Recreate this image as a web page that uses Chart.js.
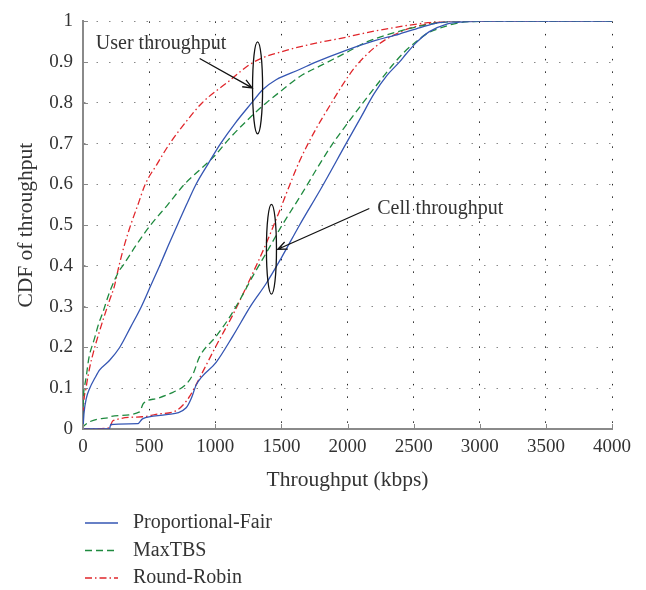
<!DOCTYPE html>
<html>
<head>
<meta charset="utf-8">
<script src="https://cdn.jsdelivr.net/npm/chart.js@4.4.0/dist/chart.umd.min.js"></script>
<style>
  html, body { margin: 0; padding: 0; background: #fff; }
</style>
</head>
<body>
<canvas id="cdf" width="646" height="590"></canvas>
<script>
// -----------------------------
// DATA  ([throughput kbps, CDF])
// -----------------------------
const pfUser = [[0,0],[8,0.04],[25,0.075],[51,0.1],[90,0.125],[126,0.145],[200,0.168],[277,0.2],[360,0.25],[441,0.3],[510,0.35],[579,0.4],[645,0.45],[713,0.5],[782,0.55],[854,0.6],[945,0.65],[1040,0.7],[1150,0.75],[1275,0.8],[1360,0.833],[1460,0.857],[1637,0.882],[1760,0.9],[1989,0.929],[2200,0.952],[2392,0.969],[2550,0.985],[2694,0.997],[2850,1],[4000,1]];
const maxtbsUser = [[0,0],[1,0.05],[10,0.1],[25,0.13],[45,0.175],[86,0.221],[120,0.26],[149,0.285],[200,0.335],[275,0.389],[300,0.4],[400,0.45],[510,0.5],[640,0.55],[766,0.6],[880,0.635],[992,0.669],[1100,0.71],[1250,0.76],[1385,0.8],[1500,0.83],[1640,0.865],[1800,0.892],[2000,0.925],[2140,0.949],[2300,0.967],[2500,0.985],[2700,0.997],[2850,1],[4000,1]];
const rrUser = [[0,0],[4,0.05],[23,0.1],[50,0.15],[86,0.197],[125,0.24],[161,0.277],[200,0.315],[237,0.35],[272,0.4],[312,0.45],[360,0.5],[415,0.55],[470,0.6],[560,0.65],[655,0.7],[770,0.75],[900,0.8],[1090,0.85],[1290,0.9],[1550,0.93],[1810,0.95],[1940,0.958],[2200,0.976],[2450,0.99],[2650,0.998],[2800,1],[4000,1]];

const pfCell = [[0,0],[200,0.001],[210,0.011],[415,0.013],[450,0.025],[630,0.035],[780,0.052],[820,0.076],[856,0.108],[1008,0.164],[1133,0.228],[1272,0.304],[1385,0.357],[1500,0.42],[1637,0.5],[1800,0.59],[1989,0.7],[2100,0.764],[2200,0.822],[2300,0.868],[2392,0.9],[2443,0.92],[2520,0.948],[2619,0.975],[2745,0.993],[2850,0.998],[3000,1],[4000,1]];
const maxtbsCell = [[0,0],[5,0.007],[200,0.028],[215,0.031],[428,0.042],[455,0.062],[560,0.075],[680,0.09],[780,0.11],[831,0.134],[881,0.177],[1008,0.228],[1100,0.27],[1183,0.315],[1284,0.375],[1400,0.44],[1500,0.497],[1662,0.581],[1780,0.645],[1888,0.7],[2014,0.756],[2140,0.81],[2250,0.856],[2341,0.893],[2430,0.925],[2518,0.95],[2600,0.97],[2694,0.983],[2850,0.997],[3000,1],[4000,1]];
const rrCell = [[0,0],[200,0.003],[225,0.02],[450,0.03],[551,0.036],[705,0.045],[760,0.06],[806,0.08],[881,0.125],[1008,0.205],[1133,0.28],[1259,0.365],[1385,0.455],[1486,0.535],[1561,0.597],[1637,0.657],[1763,0.737],[1860,0.79],[1964,0.845],[2050,0.885],[2140,0.917],[2240,0.945],[2341,0.965],[2460,0.982],[2594,0.993],[2770,1],[4000,1]];

const schemeNames = ["Proportional-Fair", "MaxTBS", "Round-Robin"];
const xTicks = [0, 500, 1000, 1500, 2000, 2500, 3000, 3500, 4000];

// -----------------------------
// STYLE
// -----------------------------
const serif = '"Liberation Serif", "Times New Roman", serif';
const textColor = "#333";

const styles = [
  { color: "#3556b3", dash: [] },
  { color: "#1f8a3f", dash: [7, 4] },
  { color: "#e0262b", dash: [7, 3, 1.5, 3] },
];

const curves = [
  [pfUser, pfCell],
  [maxtbsUser, maxtbsCell],
  [rrUser, rrCell],
];

const datasets = [];
curves.forEach((pair, i) => {
  pair.forEach((pts, j) => {
    datasets.push({
      label: schemeNames[i],
      showInLegend: j === 0,
      data: pts.map(([x, y]) => ({ x, y })),
      borderColor: styles[i].color,
      borderDash: styles[i].dash,
      borderWidth: 1.3,
      pointRadius: 0,
      fill: false,
      cubicInterpolationMode: "monotone",
    });
  });
});

// callouts in data coordinates
const callouts = [
  { text: "User throughput", textAt: [97, 0.945], from: [882, 0.909], to: [1279, 0.837], ellipse: [1320, 0.837, 38, 0.113] },
  { text: "Cell throughput", textAt: [2225, 0.54], from: [2165, 0.541], to: [1473, 0.441], ellipse: [1425, 0.441, 38, 0.11] },
];

// -----------------------------
// PLUGINS
// -----------------------------
const calloutPlugin = {
  id: "callouts",
  afterDatasetsDraw(chart) {
    const { ctx, scales: { x, y } } = chart;
    ctx.save();
    ctx.strokeStyle = "#111";
    ctx.lineWidth = 1.3;

    // little inward ticks on the axes
    ctx.save();
    ctx.strokeStyle = "#888";
    ctx.lineWidth = 1;
    x.ticks.forEach((t) => {
      const px = Math.round(x.getPixelForValue(t.value)) + 0.5;
      ctx.beginPath();
      ctx.moveTo(px, y.bottom);
      ctx.lineTo(px, y.bottom - 5);
      ctx.stroke();
    });
    y.ticks.forEach((t) => {
      const py = Math.round(y.getPixelForValue(t.value)) + 0.5;
      ctx.beginPath();
      ctx.moveTo(x.left, py);
      ctx.lineTo(x.left + 5, py);
      ctx.stroke();
    });
    ctx.restore();

    callouts.forEach((c) => {
      const [ex, ey, erx, ery] = c.ellipse;
      const cx = x.getPixelForValue(ex);
      const cy = y.getPixelForValue(ey);
      const rx = Math.abs(x.getPixelForValue(ex + erx) - cx);
      const ry = Math.abs(y.getPixelForValue(ey + ery) - cy);
      ctx.beginPath();
      ctx.ellipse(cx, cy, rx, ry, 0, 0, Math.PI * 2);
      ctx.stroke();

      const x1 = x.getPixelForValue(c.from[0]);
      const y1 = y.getPixelForValue(c.from[1]);
      const x2 = x.getPixelForValue(c.to[0]);
      const y2 = y.getPixelForValue(c.to[1]);
      ctx.beginPath();
      ctx.moveTo(x1, y1);
      ctx.lineTo(x2, y2);
      const ang = Math.atan2(y2 - y1, x2 - x1);
      const head = 10;
      ctx.moveTo(x2 - head * Math.cos(ang - 0.4), y2 - head * Math.sin(ang - 0.4));
      ctx.lineTo(x2, y2);
      ctx.lineTo(x2 - head * Math.cos(ang + 0.4), y2 - head * Math.sin(ang + 0.4));
      ctx.stroke();

      ctx.fillStyle = textColor;
      ctx.font = "20px " + serif;
      ctx.textAlign = "left";
      ctx.textBaseline = "middle";
      ctx.fillText(c.text, x.getPixelForValue(c.textAt[0]), y.getPixelForValue(c.textAt[1]));
    });
    ctx.restore();
  },
};

// vertical legend under the plot
const legendPlugin = {
  id: "stackedLegend",
  afterDraw(chart, args, opts) {
    const { ctx } = chart;
    ctx.save();
    ctx.font = "20px " + serif;
    ctx.textBaseline = "middle";
    ctx.textAlign = "left";
    let row = 0;
    chart.data.datasets.forEach((ds) => {
      if (!ds.showInLegend) return;
      const yy = opts.top + row * opts.rowGap;
      ctx.strokeStyle = ds.borderColor;
      ctx.lineWidth = ds.borderWidth;
      ctx.setLineDash(ds.borderDash);
      ctx.beginPath();
      ctx.moveTo(opts.lineStart, yy);
      ctx.lineTo(opts.lineEnd, yy);
      ctx.stroke();
      ctx.setLineDash([]);
      ctx.fillStyle = textColor;
      ctx.fillText(ds.label, opts.textStart, yy);
      row++;
    });
    ctx.restore();
  },
};

// -----------------------------
// CHART
// -----------------------------
new Chart(document.getElementById("cdf"), {
  type: "line",
  data: { datasets },
  plugins: [calloutPlugin, legendPlugin],
  options: {
    responsive: false,
    animation: false,
    layout: { padding: { left: 0, top: 12, right: 34, bottom: 91 } },
    plugins: {
      legend: { display: false },
      tooltip: { enabled: false },
      stackedLegend: { top: 523, rowGap: 27.5, lineStart: 85, lineEnd: 118, textStart: 133 },
    },
    scales: {
      x: {
        type: "linear",
        min: 0,
        max: 4000,
        afterBuildTicks: (s) => { s.ticks = xTicks.map((v) => ({ value: v })); },
        ticks: {
          color: textColor,
          font: { family: serif, size: 19 },
          padding: 7,
          maxRotation: 0,
          autoSkip: false,
          callback: (v) => String(v),
        },
        grid: { color: "#222", lineWidth: 1, drawTicks: false },
        border: { display: true, color: "#8a8a8a", width: 2, dash: [1.5, 11] },
        title: {
          display: true,
          text: "Throughput (kbps)",
          color: textColor,
          font: { family: serif, size: 21.5 },
          padding: { top: 0, bottom: 6 },
        },
        afterFit: (s) => { s.height = 70; },
      },
      y: {
        type: "linear",
        min: 0,
        max: 1,
        ticks: {
          stepSize: 0.1,
          color: textColor,
          font: { family: serif, size: 19 },
          padding: 10,
          callback: (v) => String(Number(v.toFixed(1))),
        },
        grid: { color: "#888", lineWidth: 1, drawTicks: false },
        border: { display: true, color: "#8a8a8a", width: 2, dash: [1.5, 11] },
        title: {
          display: true,
          text: "CDF of throughput",
          color: textColor,
          font: { family: serif, size: 21.5 },
          padding: { top: 13, bottom: 0 },
        },
        afterFit: (s) => { s.width = 83; },
      },
    },
  },
});
</script>
</body>
</html>
